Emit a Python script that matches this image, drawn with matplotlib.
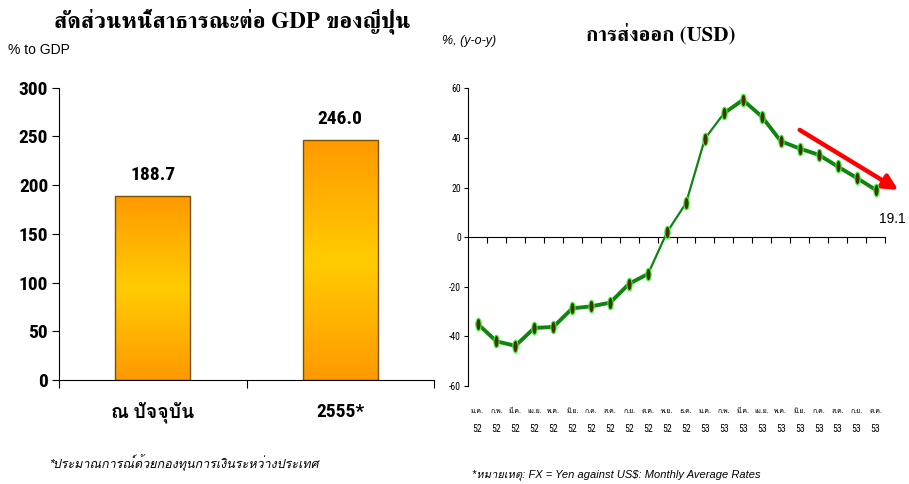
import numpy as np
import matplotlib
matplotlib.use("Agg")
import matplotlib.pyplot as plt
from matplotlib.colors import LinearSegmentedColormap
import logging
logging.getLogger('matplotlib.font_manager').setLevel(logging.ERROR)

# ---------------- data ----------------
debt_categories = ["ณ ปัจจุบัน", "2555*"]
debt_values = [188.7, 246.0]
debt_yticks = [0, 50, 100, 150, 200, 250, 300]

export_months = ["ม.ค.", "ก.พ.", "มี.ค.", "เม.ย.", "พ.ค.", "มิ.ย.", "ก.ค.", "ส.ค.",
                 "ก.ย.", "ต.ค.", "พ.ย.", "ธ.ค.", "ม.ค.", "ก.พ.", "มี.ค.", "เม.ย.",
                 "พ.ค.", "มิ.ย.", "ก.ค.", "ส.ค.", "ก.ย.", "ต.ค."]
export_years = ["52"] * 12 + ["53"] * 10
export_growth = [-34.9, -42.0, -43.8, -36.6, -36.2, -28.7, -27.9, -26.4, -18.8, -14.8,
                 2.0, 13.7, 39.7, 49.9, 55.3, 48.6, 38.7, 35.7, 33.2, 28.5, 23.9, 19.1]
export_yticks = [-60, -40, -20, 0, 20, 40, 60]

# ---------------- fonts ----------------
TITLE_FONT = ['FreeSerif', 'Loma', 'DejaVu Serif']
NARROW_FONT = ['Liberation Sans Narrow', 'Roboto Condensed', 'Arimo', 'Loma', 'DejaVu Sans']
SANS_FONT = ['Liberation Sans', 'Loma', 'DejaVu Sans']
THAI_SANS = ['Loma', 'DejaVu Sans']

fig = plt.figure(figsize=(9.09, 4.84), dpi=100)

# ================= left: bar chart =================
ax1 = fig.add_axes([0.0652, 0.2149, 0.4122, 0.6039])
xpos = np.arange(len(debt_values))
bars = ax1.bar(xpos, debt_values, width=0.4, color='none', edgecolor='#7a5200',
               linewidth=1.0, zorder=3)
cmap = LinearSegmentedColormap.from_list('og', ['#FF9900', '#FFCC00', '#FF9900'])
grad = np.linspace(0, 1, 256).reshape(-1, 1)
for b in bars:
    x0, w, h = b.get_x(), b.get_width(), b.get_height()
    im = ax1.imshow(grad, extent=[x0, x0 + w, 0, h], aspect='auto', cmap=cmap,
                    origin='lower', zorder=2)
    im.set_clip_path(b)
for x, v in zip(xpos, debt_values):
    ax1.annotate(f"{v:.1f}", xy=(x, v), xytext=(0, 9), textcoords='offset points',
                 ha='center', va='bottom', fontsize=14, fontweight='bold',
                 family=NARROW_FONT)
ax1.set_xlim(-0.5, len(debt_values) - 0.5)
ax1.set_ylim(0, 300)
ax1.set_yticks(debt_yticks)
ax1.set_yticklabels([str(t) for t in debt_yticks], fontsize=14, fontweight='bold',
                    family=NARROW_FONT)
ax1.set_xticks(np.arange(-0.5, len(debt_values), 1.0))
ax1.set_xticklabels([])
ax1.tick_params(axis='x', length=6, direction='out', width=0.8)
ax1.tick_params(axis='y', length=5, direction='out', width=0.8, pad=3)
for x, lab in zip(xpos, debt_categories):
    ax1.text(x, -0.11, lab, transform=ax1.get_xaxis_transform(), ha='center', va='center',
             fontsize=14, fontweight='bold', family=NARROW_FONT)
for s in ['top', 'right']:
    ax1.spines[s].set_visible(False)
for s in ['left', 'bottom']:
    ax1.spines[s].set_linewidth(0.8)

fig.text(232 / 909, 1 - 21 / 484, "สัดส่วนหนี้สาธารณะต่อ GDP ของญี่ปุ่น", ha='center',
         va='center', fontsize=16.5, fontweight='bold', family=TITLE_FONT)
fig.text(8 / 909, 1 - 50 / 484, "% to GDP", ha='left', va='center', fontsize=10,
         family=SANS_FONT)
fig.text(48 / 909, 1 - 463 / 484, "*ประมาณการณ์ด้วยกองทุนการเงินระหว่างประเทศ", ha='left',
         va='center', fontsize=9, style='italic', family=THAI_SANS)

# ================= right: line chart =================
ax2 = fig.add_axes([0.5149, 0.2025, 0.4587, 0.6151])
idx = np.arange(len(export_growth))
g = np.array(export_growth)
theta = np.linspace(0, 2 * np.pi, 40)
ell = np.column_stack([0.42 * np.cos(theta), np.sin(theta)])
line_col = '#0f850f'
ax2.plot(idx[:10], g[:10], color=line_col, lw=2.8, solid_capstyle='round', zorder=3)
ax2.plot(idx[9:14], g[9:14], color=line_col, lw=1.6, zorder=3)
ax2.plot(idx[13:], g[13:], color=line_col, lw=2.8, solid_capstyle='round', zorder=3)
ax2.plot(idx, g, linestyle='none', marker=ell, markersize=9, markerfacecolor='#4a3000',
         markeredgecolor='#33ff33', markeredgewidth=0.8, zorder=4)
ax2.set_xlim(-0.5, len(export_growth) - 0.5)
ax2.set_ylim(-60, 60)
ax2.set_yticks(export_yticks)
ax2.set_yticklabels([str(t) for t in export_yticks], fontsize=7, family=NARROW_FONT)
ax2.tick_params(axis='y', length=3, direction='out', width=0.8, pad=2)
ax2.spines['bottom'].set_position(('data', 0))
ax2.set_xticks(np.arange(0.5, len(export_growth), 1.0))
ax2.set_xticklabels([])
ax2.tick_params(axis='x', length=4, direction='out', width=0.8)
for s in ['top', 'right']:
    ax2.spines[s].set_visible(False)
for s in ['left', 'bottom']:
    ax2.spines[s].set_linewidth(0.8)
for i, (m, yv) in enumerate(zip(export_months, export_years)):
    ax2.text(i, -0.087, m, transform=ax2.get_xaxis_transform(), ha='center', va='center',
             fontsize=5, family=THAI_SANS)
    ax2.text(i, -0.143, yv, transform=ax2.get_xaxis_transform(), ha='center', va='center',
             fontsize=7, family=NARROW_FONT)
ax2.annotate(f"{export_growth[-1]:.1f}", xy=(idx[-1], export_growth[-1]), xytext=(12, -21),
             textcoords='offset points', ha='center', va='center', fontsize=10,
             family=SANS_FONT, annotation_clip=False)
ax2.annotate("", xy=(22.2, 19.0), xytext=(17.0, 43.2), annotation_clip=False,
             arrowprops=dict(arrowstyle='-|>,head_length=0.9,head_width=0.45',
                             color='#ff0000', lw=3.2, shrinkA=0, shrinkB=0))

fig.text(661 / 909, 1 - 34 / 484, "การส่งออก (USD)", ha='center', va='center',
         fontsize=15, fontweight='bold', family=TITLE_FONT)
fig.text(442 / 909, 1 - 41 / 484, "%, (y-o-y)", ha='left', va='center', fontsize=9,
         style='italic', family=SANS_FONT)
fig.text(472 / 909, 1 - 475 / 484, "*หมายเหตุ: FX = Yen against US$: Monthly Average Rates",
         ha='left', va='center', fontsize=8, style='italic', family=SANS_FONT)

fig.savefig("out.png", dpi=100)
